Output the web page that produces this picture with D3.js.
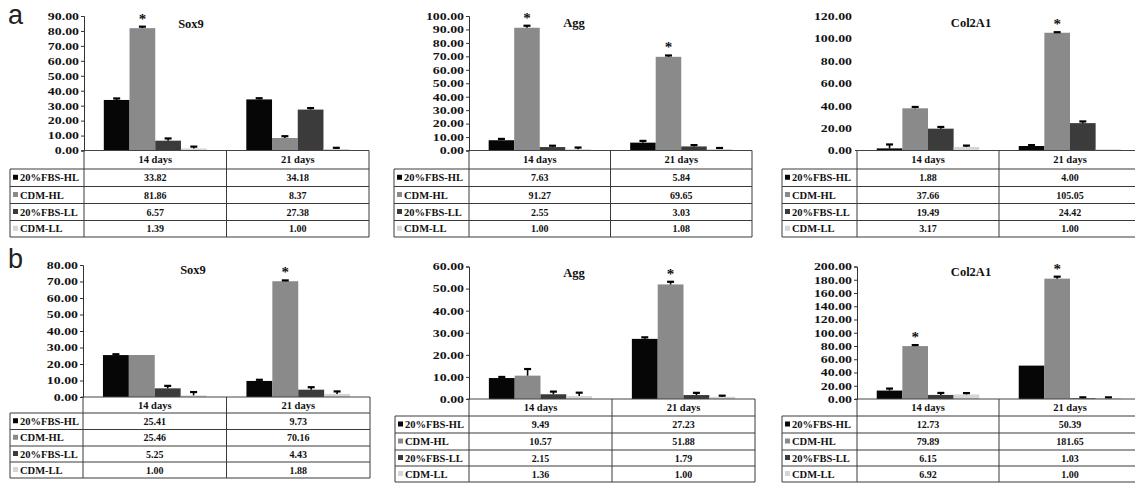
<!DOCTYPE html>
<html>
<head>
<meta charset="utf-8">
<script src="https://cdn.jsdelivr.net/npm/d3@7"></script>
<style>
  html, body { margin: 0; padding: 0; background: #fff; }
  svg { display: block; }
  .serif { font-family: "Liberation Serif", "Times New Roman", serif; font-weight: bold; fill: #111; }
</style>
</head>
<body>
<svg id="fig" width="1135" height="485"></svg>
<script>
// ---- data ----
const days = ["14 days", "21 days"];
const series = ["20%FBS-HL", "CDM-HL", "20%FBS-LL", "CDM-LL"];

// relative expression, one row per series, one column per day
const sox9A  = [[33.82, 34.18], [81.86, 8.37], [6.57, 27.38], [1.39, 1.00]];
const aggA   = [[7.63, 5.84], [91.27, 69.65], [2.55, 3.03], [1.00, 1.08]];
const col2A  = [[1.88, 4.00], [37.66, 105.05], [19.49, 24.42], [3.17, 1.00]];
const sox9B  = [[25.41, 9.73], [25.46, 70.16], [5.25, 4.43], [1.00, 1.88]];
const aggB   = [[9.49, 27.23], [10.57, 51.88], [2.15, 1.79], [1.36, 1.00]];
const col2B  = [[12.73, 50.39], [79.89, 181.65], [6.15, 1.03], [6.92, 1.00]];

// upper error (SD) for each bar
const sox9AErr = [[1.0, 0.8], [1.0, 1.2], [1.5, 1.0], [1.2, 0.8]];
const aggAErr  = [[1.0, 1.3], [1.5, 1.0], [1.0, 1.0], [1.2, 0.8]];
const col2AErr = [[3.5, 0.8], [1.2, 0.5], [1.5, 1.5], [1.2, 0.0]];
const sox9BErr = [[0.5, 0.7], [0.0, 0.5], [1.5, 1.5], [2.0, 1.5]];
const aggBErr  = [[0.5, 0.7], [3.0, 1.2], [1.2, 1.0], [1.5, 0.5]];
const col2BErr = [[3.0, 0.0], [1.5, 3.0], [3.0, 1.5], [2.0, 1.5]];

// significance marks (series index, day index)
const sox9ASig = [[1, 0]];
const aggASig  = [[1, 0], [1, 1]];
const col2ASig = [[1, 1]];
const sox9BSig = [[1, 1]];
const aggBSig  = [[1, 1]];
const col2BSig = [[1, 0], [1, 1]];

const yMaxes = [90, 100, 120, 80, 60, 200];
const yStepsList = [10, 10, 20, 10, 10, 20];
const genes = ["Sox9", "Agg", "Col2A1", "Sox9", "Agg", "Col2A1"];

// ---- layout ----
const colors = ["#060606", "#8a8a8a", "#3b3b3b", "#d6d6d6"];
const panels = [
  { gene: 0, vals: sox9A, err: sox9AErr, sig: sox9ASig, left: 10,  axisX: 84,  right: 369,  top: 16,    zero: 150.5, rows: [169, 186.5, 203.5, 220.5, 237], titleDX: 107, titleY: 28,  axisLine: true },
  { gene: 1, vals: aggA,  err: aggAErr,  sig: aggASig,  left: 394, axisX: 469, right: 752,  top: 16,    zero: 150.5, rows: [169, 186.5, 203.5, 220.5, 237], titleDX: 105, titleY: 27,  axisLine: true },
  { gene: 2, vals: col2A, err: col2AErr, sig: col2ASig, left: 782, axisX: 857, right: 1141, top: 16,    zero: 150.5, rows: [169, 186.5, 203.5, 220.5, 237], titleDX: 114, titleY: 27,  axisLine: false },
  { gene: 3, vals: sox9B, err: sox9BErr, sig: sox9BSig, left: 10,  axisX: 83,  right: 370,  top: 265,   zero: 397,   rows: [413, 429.5, 446, 462, 478],     titleDX: 110, titleY: 274, axisLine: true },
  { gene: 4, vals: aggB,  err: aggBErr,  sig: aggBSig,  left: 395, axisX: 469, right: 755,  top: 266.5, zero: 399,   rows: [416, 433, 450, 466, 482],       titleDX: 105, titleY: 277, axisLine: true },
  { gene: 5, vals: col2B, err: col2BErr, sig: col2BSig, left: 782, axisX: 857, right: 1141, top: 266.5, zero: 399,   rows: [416, 433, 450, 466, 482],       titleDX: 114, titleY: 276, axisLine: true }
];

const svg = d3.select("#fig");
const fmt = d3.format(".2f");
const tickStretch = 1.32;

// panel letters
svg.append("text").attr("x", 8).attr("y", 24)
  .style("font-family", "'Liberation Sans', Arial, sans-serif").style("font-size", "27px").attr("fill", "#222").text("a");
svg.append("text").attr("x", 8).attr("y", 268)
  .style("font-family", "'Liberation Sans', Arial, sans-serif").style("font-size", "27px").attr("fill", "#222").text("b");

panels.forEach((p, pi) => {
  const g = svg.append("g");
  const yMax = yMaxes[pi], yStep = yStepsList[pi];
  const y = d3.scaleLinear().domain([0, yMax]).range([p.zero, p.top]);
  const x0 = d3.scaleBand().domain(days).range([p.axisX, p.right]);
  const x1 = d3.scaleBand().domain(series).range([0, x0.bandwidth()]).paddingInner(0).paddingOuter(0.77);

  // y axis
  const ticks = d3.range(0, yMax + yStep / 2, yStep);
  const yAxis = d3.axisLeft(y).tickValues(ticks).tickFormat(fmt).tickSize(3).tickPadding(4);
  const ax = g.append("g").attr("transform", `translate(${p.axisX},0)`).call(yAxis);
  ax.select(".domain").attr("stroke", p.axisLine ? "#333" : "none");
  ax.selectAll(".tick line").attr("stroke", p.axisLine ? "#333" : "none");
  ax.selectAll(".tick text")
    .attr("class", "serif")
    .style("font-size", "10.5px")
    .attr("x", -5 / tickStretch)
    .attr("transform", `scale(${tickStretch},1)`);

  // title
  g.append("text").attr("class", "serif")
    .attr("x", p.axisX + p.titleDX).attr("y", p.titleY)
    .attr("text-anchor", "middle").style("font-size", "12.5px")
    .text(genes[p.gene]);

  // bars
  const flat = [];
  series.forEach((s, si) => days.forEach((d, di) => {
    flat.push({ s, si, d, di, v: p.vals[si][di], e: p.err[si][di] });
  }));

  g.selectAll("rect.bar").data(flat).enter().append("rect")
    .attr("class", "bar")
    .attr("x", d => x0(d.d) + x1(d.s))
    .attr("width", x1.bandwidth())
    .attr("y", d => y(d.v))
    .attr("height", d => y(0) - y(d.v))
    .attr("fill", d => colors[d.si]);

  // error bars
  const eb = g.selectAll("g.err").data(flat.filter(d => d.e > 0)).enter().append("g").attr("class", "err");
  eb.append("line")
    .attr("x1", d => x0(d.d) + x1(d.s) + x1.bandwidth() / 2)
    .attr("x2", d => x0(d.d) + x1(d.s) + x1.bandwidth() / 2)
    .attr("y1", d => y(d.v))
    .attr("y2", d => y(d.v + d.e))
    .attr("stroke", "#000").attr("stroke-width", 1.6);
  eb.append("line")
    .attr("x1", d => x0(d.d) + x1(d.s) + x1.bandwidth() / 2 - 3.5)
    .attr("x2", d => x0(d.d) + x1(d.s) + x1.bandwidth() / 2 + 3.5)
    .attr("y1", d => y(d.v + d.e))
    .attr("y2", d => y(d.v + d.e))
    .attr("stroke", "#000").attr("stroke-width", 2.2);

  // significance asterisks
  g.selectAll("text.sig").data(p.sig).enter().append("text")
    .attr("class", "sig serif")
    .attr("x", d => x0(days[d[1]]) + x1(series[d[0]]) + x1.bandwidth() / 2)
    .attr("y", d => y(p.vals[d[0]][d[1]] + p.err[d[0]][d[1]]) - 3)
    .attr("text-anchor", "middle")
    .style("font-size", "15px").style("font-weight", "bold").attr("fill", "#333")
    .text("*");

  // data table
  const tbl = g.append("g").attr("stroke", "#3a3a3a").attr("stroke-width", 1).attr("fill", "none");
  const bottom = p.rows[p.rows.length - 1];
  // x axis line across the plot
  tbl.append("line").attr("x1", p.axisX - 2).attr("x2", p.right).attr("y1", p.zero).attr("y2", p.zero).attr("stroke", "#444");
  // verticals
  [p.axisX, x0(days[1]), p.right].forEach(xv => {
    tbl.append("line").attr("x1", xv).attr("x2", xv).attr("y1", p.zero).attr("y2", bottom);
  });
  tbl.append("line").attr("x1", p.left).attr("x2", p.left).attr("y1", p.rows[0]).attr("y2", bottom);
  // horizontals
  p.rows.forEach(ry => {
    tbl.append("line").attr("x1", p.left).attr("x2", p.right).attr("y1", ry).attr("y2", ry);
  });

  // header cells
  days.forEach(d => {
    g.append("text").attr("class", "serif")
      .attr("x", x0(d) + x0.bandwidth() / 2)
      .attr("y", (p.zero + p.rows[0]) / 2 + 3.5)
      .attr("text-anchor", "middle").style("font-size", "10.5px")
      .text(d);
  });

  // series rows
  series.forEach((s, si) => {
    const top = p.rows[si], bot = p.rows[si + 1];
    const mid = (top + bot) / 2;
    g.append("rect").attr("x", p.left + 3).attr("y", mid - 3).attr("width", 5).attr("height", 5).attr("fill", colors[si]);
    g.append("text").attr("class", "serif")
      .attr("x", p.left + 10).attr("y", mid + 3.5)
      .style("font-size", "10.5px")
      .text(s);
    days.forEach((d, di) => {
      g.append("text").attr("class", "serif")
        .attr("x", x0(d) + x0.bandwidth() / 2).attr("y", mid + 3.5)
        .attr("text-anchor", "middle").style("font-size", "10px")
        .text(fmt(p.vals[si][di]));
    });
  });
});
</script>
</body>
</html>
